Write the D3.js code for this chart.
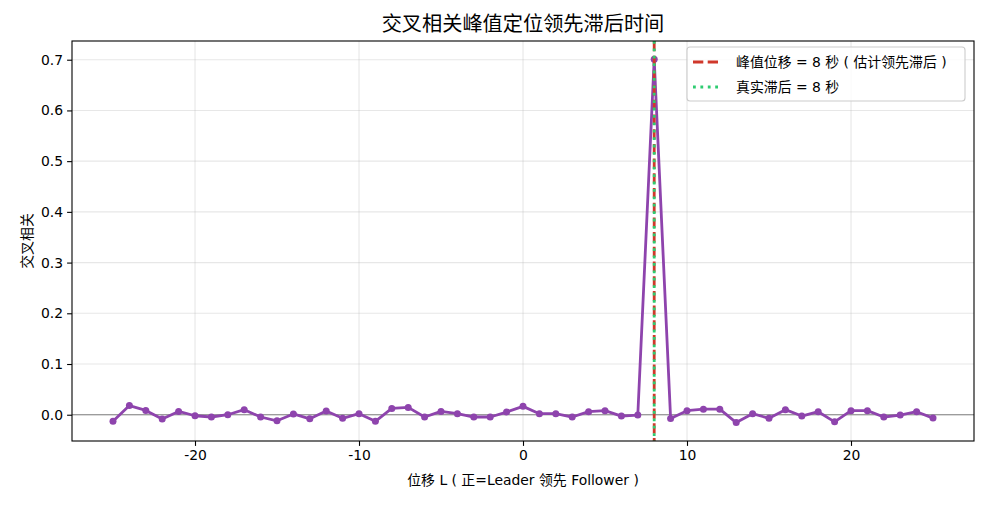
<!DOCTYPE html>
<html>
<head>
<meta charset="utf-8">
<script src="https://cdn.jsdelivr.net/npm/d3@7"></script>
<style>
  html, body { margin: 0; padding: 0; background: #fff; }
  svg { display: block; }
  text { font-family: "DejaVu Sans", "Noto Sans CJK SC", sans-serif; }
</style>
</head>
<body>
<svg id="chart" width="990" height="505"></svg>
<script>
const lags = [-25,-24,-23,-22,-21,-20,-19,-18,-17,-16,-15,-14,-13,-12,-11,-10,-9,-8,-7,-6,-5,-4,-3,-2,-1,0,1,2,3,4,5,6,7,8,9,10,11,12,13,14,15,16,17,18,19,20,21,22,23,24,25];
const corr = [-0.013,0.018,0.0085,-0.0085,0.0065,-0.002,-0.0045,0.0,0.010,-0.0045,-0.012,0.0015,-0.008,0.0073,-0.007,0.002,-0.013,0.0125,0.0145,-0.0045,0.0065,0.002,-0.0045,-0.0045,0.0053,0.0165,0.002,0.002,-0.0045,0.006,0.008,-0.0026,-0.0006,0.701,-0.0073,0.008,0.011,0.011,-0.0155,0.002,-0.007,0.010,-0.0026,0.006,-0.014,0.008,0.008,-0.0045,-0.0006,0.006,-0.0066];
const xTicks = [-20,-10,0,10,20];
const yTicks = [0.0,0.1,0.2,0.3,0.4,0.5,0.6,0.7];
const peakLag = 8;
const trueLag = 8;
const titleText = "交叉相关峰值定位领先滞后时间";
const xLabel = "位移 L ( 正=Leader 领先 Follower )";
const yLabel = "交叉相关";
const legendLabels = ["峰值位移 = 8 秒 ( 估计领先滞后 )", "真实滞后 = 8 秒"];

const FONT = '"DejaVu Sans", "Noto Sans CJK SC", sans-serif';
const m = {left: 72, right: 974, top: 41, bottom: 441};
const svg = d3.select("#chart");

const x = d3.scaleLinear().domain([-27.5, 27.5]).range([m.left, m.right]);
const ymin = -0.0518, ymax = 0.7369;
const y = d3.scaleLinear().domain([ymin, ymax]).range([m.bottom, m.top]);

// grid
const g = svg.append("g");
g.selectAll(".gx").data(xTicks).enter().append("line")
  .attr("x1", d => x(d)).attr("x2", d => x(d)).attr("y1", m.top).attr("y2", m.bottom)
  .attr("stroke", "#b0b0b0").attr("stroke-opacity", 0.3).attr("stroke-width", 1.1);
g.selectAll(".gy").data(yTicks).enter().append("line")
  .attr("x1", m.left).attr("x2", m.right).attr("y1", d => y(d)).attr("y2", d => y(d))
  .attr("stroke", "#b0b0b0").attr("stroke-opacity", 0.3).attr("stroke-width", 1.1);

// zero line
svg.append("line").attr("x1", m.left).attr("x2", m.right).attr("y1", y(0)).attr("y2", y(0))
  .attr("stroke", "#808080").attr("stroke-width", 1.1);

// data line
const data = lags.map((l, i) => ({l, v: corr[i]}));
svg.append("clipPath").attr("id", "clip").append("rect")
  .attr("x", m.left).attr("y", m.top).attr("width", m.right - m.left).attr("height", m.bottom - m.top);
const plot = svg.append("g").attr("clip-path", "url(#clip)");
plot.append("path").datum(data)
  .attr("d", d3.line().x(d => x(d.l)).y(d => y(d.v)))
  .attr("fill", "none").attr("stroke", "#8e44ad").attr("stroke-width", 2.8).attr("stroke-linejoin", "round");
plot.selectAll("circle").data(data).enter().append("circle")
  .attr("cx", d => x(d.l)).attr("cy", d => y(d.v)).attr("r", 3.5).attr("fill", "#8e44ad");

// vertical lines
plot.append("line").attr("x1", x(peakLag)).attr("x2", x(peakLag)).attr("y1", m.top).attr("y2", m.bottom)
  .attr("stroke", "#d0382b").attr("stroke-width", 2.8).attr("stroke-dasharray", "10.3,4.4");
plot.append("line").attr("x1", x(trueLag)).attr("x2", x(trueLag)).attr("y1", m.top).attr("y2", m.bottom)
  .attr("stroke", "#2ecc71").attr("stroke-width", 2.8).attr("stroke-dasharray", "2.8,4.6");

// axes
const xAxis = svg.append("g").attr("transform", `translate(0,${m.bottom})`)
  .call(d3.axisBottom(x).tickValues(xTicks).tickSize(4.9).tickPadding(4).tickFormat(d3.format("d")));
const yAxis = svg.append("g").attr("transform", `translate(${m.left},0)`)
  .call(d3.axisLeft(y).tickValues(yTicks).tickSize(4.9).tickPadding(4).tickFormat(d3.format(".1f")));
[xAxis, yAxis].forEach(a => {
  a.select(".domain").remove();
  a.selectAll("line").attr("stroke", "#000").attr("stroke-width", 1.1);
  a.selectAll("text").attr("fill", "#000").style("font-size", "13.9px").style("font-family", FONT);
});
xAxis.selectAll("text").text(d => String(d).replace("−", "-"));

// spines
svg.append("rect").attr("x", m.left).attr("y", m.top).attr("width", m.right - m.left).attr("height", m.bottom - m.top)
  .attr("fill", "none").attr("stroke", "#000").attr("stroke-width", 1.1);

// title & labels
svg.append("text").attr("x", (m.left + m.right) / 2).attr("y", 31).attr("text-anchor", "middle")
  .style("font-size", "20.2px").style("font-family", FONT).text(titleText);
svg.append("text").attr("x", (m.left + m.right) / 2).attr("y", 485).attr("text-anchor", "middle")
  .style("font-size", "13.9px").style("font-family", FONT).text(xLabel);
svg.append("text").attr("transform", `translate(32,${(m.top + m.bottom) / 2}) rotate(-90)`).attr("text-anchor", "middle")
  .style("font-size", "13.9px").style("font-family", FONT).text(yLabel);

// legend
const lg = svg.append("g");
lg.append("rect").attr("x", 687).attr("y", 47).attr("width", 278).attr("height", 54).attr("rx", 3)
  .attr("fill", "#fff").attr("fill-opacity", 0.8).attr("stroke", "#cccccc").attr("stroke-width", 1.1);
const items = [
  {label: legendLabels[0], color: "#d0382b", dash: "10.3,4.4"},
  {label: legendLabels[1], color: "#2ecc71", dash: "2.8,4.6"}
];
items.forEach((it, i) => {
  const yy = 62 + i * 25;
  lg.append("line").attr("x1", 693).attr("x2", 721).attr("y1", yy).attr("y2", yy)
    .attr("stroke", it.color).attr("stroke-width", 2.8).attr("stroke-dasharray", it.dash);
  lg.append("text").attr("x", 736).attr("y", yy + 5).style("font-size", "13.9px")
    .style("font-family", FONT).text(it.label);
});
</script>
</body>
</html>
